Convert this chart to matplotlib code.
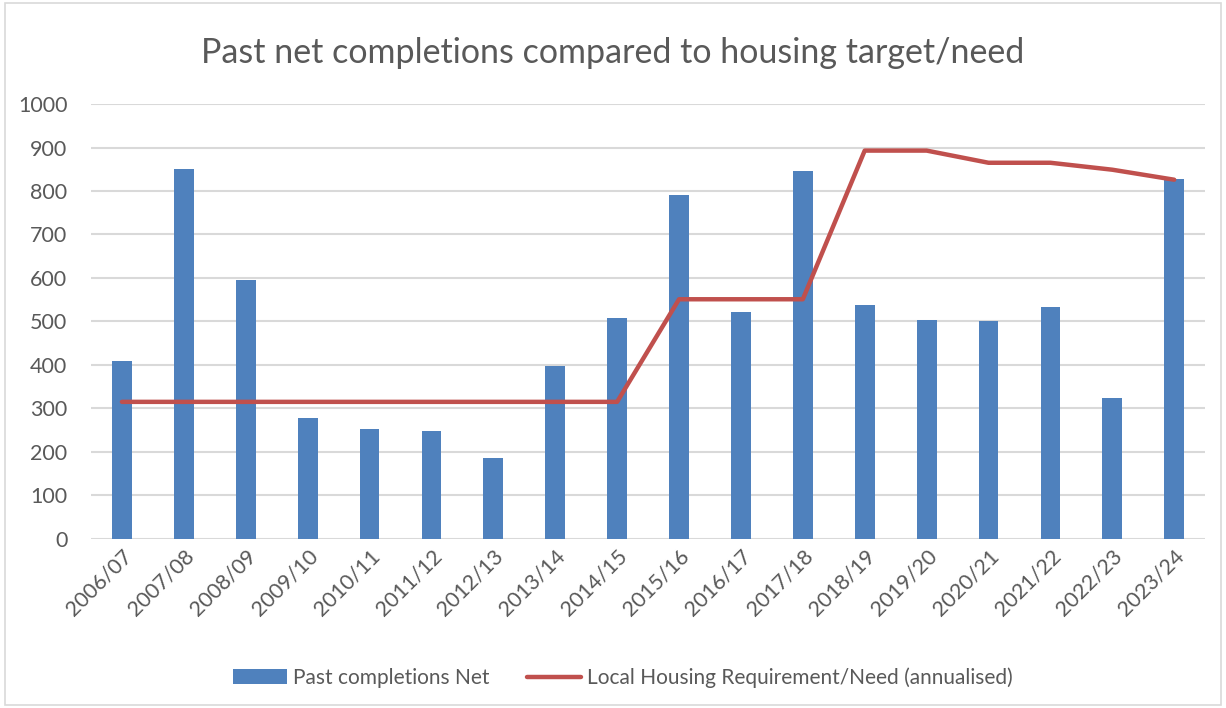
import matplotlib
matplotlib.use("Agg")
import matplotlib.pyplot as plt
from matplotlib.patches import Rectangle
import numpy as np

years = ["2006/07", "2007/08", "2008/09", "2009/10", "2010/11", "2011/12",
         "2012/13", "2013/14", "2014/15", "2015/16", "2016/17", "2017/18",
         "2018/19", "2019/20", "2020/21", "2021/22", "2022/23", "2023/24"]
completions = [409, 851, 595, 277, 252, 247, 186, 398, 509, 791, 522, 846,
               537, 504, 501, 534, 325, 828]
requirement = [315, 315, 315, 315, 315, 315, 315, 315, 315, 551, 551, 551,
               893, 893, 865, 865, 849, 826]
y_ticks = [0, 100, 200, 300, 400, 500, 600, 700, 800, 900, 1000]

plt.rcParams['font.family'] = ['Lato', 'DejaVu Sans']
txt = '#595959'

fig = plt.figure(figsize=(12.26, 7.08), dpi=100)
ax = fig.add_axes([0.0742, 0.239, 0.9088, 0.614])

x = np.arange(len(years))
bars = ax.bar(x, completions, width=0.32, color='#4F81BD', zorder=3,
              label='Past completions Net')
line, = ax.plot(x, requirement, color='#C0504D', lw=3.2, zorder=4,
                solid_capstyle='round', solid_joinstyle='round',
                label='Local Housing Requirement/Need (annualised)')

ax.set_xlim(-0.5, len(years) - 0.5)
ax.set_ylim(0, 1000)
ax.set_yticks(y_ticks)
ax.set_xticks(x)
ax.set_xticklabels(years, rotation=45, ha='right', rotation_mode='anchor')
ax.tick_params(axis='both', length=0, labelsize=15.5, colors=txt)
ax.tick_params(axis='y', pad=17)
ax.tick_params(axis='x', pad=5)
ax.grid(axis='y', color='#D9D9D9', lw=1.5, zorder=0)
for s in ax.spines.values():
    s.set_visible(False)

fig.suptitle('Past net completions compared to housing target/need',
             fontsize=24.5, color=txt, y=0.948)

leg = fig.legend([bars, line], [bars.get_label(), line.get_label()],
                 loc='center', bbox_to_anchor=(0.508, 0.043), ncol=2,
                 frameon=False, fontsize=15, handlelength=2.6,
                 columnspacing=1.8, handletextpad=0.3)
for t in leg.get_texts():
    t.set_color(txt)

fig.patches.append(Rectangle((0.004, 0.004), 0.992, 0.992, transform=fig.transFigure,
                             fill=False, edgecolor='#D9D9D9', lw=1.2))

fig.savefig('out.png', dpi=100, facecolor='white')
